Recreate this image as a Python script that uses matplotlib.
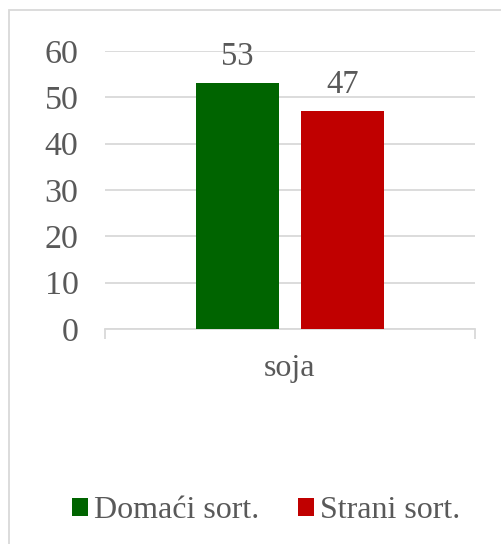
import matplotlib.pyplot as plt
from matplotlib.patches import Rectangle

# datos
categorias = ['soja']
series = ['Domaći sort.', 'Strani sort.']
valores = [53, 47]
colores = ['#006400', '#c00000']

plt.rcParams['font.family'] = ['Liberation Serif', 'DejaVu Serif']
gris = '#595959'
linea = '#d9d9d9'

fig = plt.figure(figsize=(5.02, 5.44), dpi=100)
ax = fig.add_axes([105 / 502, 1 - 329 / 544, 370 / 502, (329 - 51) / 544])

# barras
ancho = 0.224
offs = [-0.142, 0.142]
for nombre, v, c, o in zip(series, valores, colores, offs):
    b = ax.bar(0 + o, v, width=ancho, color=c, label=nombre, zorder=3)
    ax.bar_label(b, labels=[str(v)], padding=8, fontsize=23.5, color=gris)

ax.set_xlim(-0.5, 0.5)
ax.set_ylim(0, 60)
ax.set_yticks(range(0, 61, 10))
ax.set_xticks([0])
ax.set_xticklabels(categorias)
ax.set_xticks([-0.5, 0.5], minor=True)
ax.tick_params(axis='x', which='major', length=0, pad=18, labelsize=23, labelcolor=gris)
ax.tick_params(axis='x', which='minor', length=7, width=1.3, color=linea)
ax.tick_params(axis='y', length=0, pad=19, labelsize=24.5, labelcolor=gris)
ax.grid(axis='y', color=linea, linewidth=1.3, zorder=0)
for s in ['top', 'right', 'left']:
    ax.spines[s].set_visible(False)
ax.spines['bottom'].set_color(linea)
ax.spines['bottom'].set_linewidth(1.3)

# leyenda
fig.legend(loc='center', bbox_to_anchor=(266 / 502, 1 - 511 / 544), ncol=2,
           frameon=False, fontsize=23, labelcolor=gris, handlelength=0.5,
           handleheight=0.5, handletextpad=0.2, columnspacing=1.2)

# borde
fig.patches.append(Rectangle((9 / 502, -0.05), 1.2, 1 - 10 / 544 + 0.05,
                             transform=fig.transFigure, fill=False,
                             edgecolor=linea, linewidth=1.3))

fig.savefig('out.png', dpi=100)
